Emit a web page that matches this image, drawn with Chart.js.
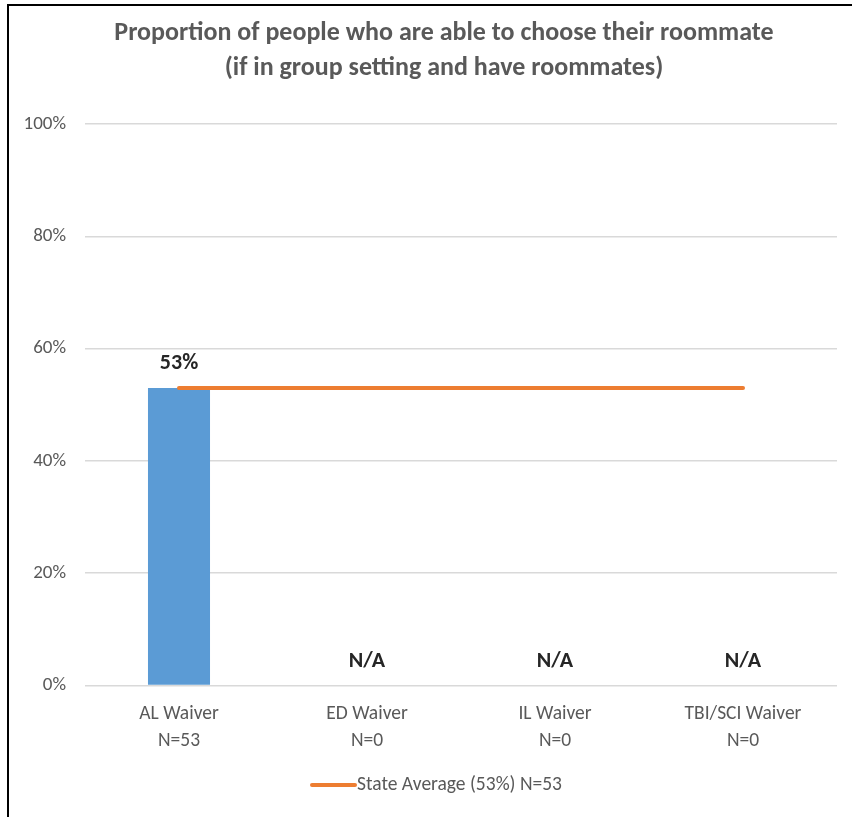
<!DOCTYPE html>
<html>
<head>
<meta charset="utf-8">
<script src="https://cdn.jsdelivr.net/npm/chart.js@4.4.1/dist/chart.umd.min.js"></script>
<style>
  html, body { margin: 0; padding: 0; background: #fff; }
  #wrap { position: relative; width: 852px; height: 817px; }
  #frame {
    position: absolute; left: 7px; top: 4px; right: 0; bottom: 0;
    border-left: 2px solid #000; border-top: 2px solid #000;
    pointer-events: none;
  }
</style>
</head>
<body>
<div id="wrap">
  <canvas id="myChart" width="852" height="817"></canvas>
  <div id="frame"></div>
</div>

<script>
// chart data
var categories = [['AL Waiver', 'N=53'], ['ED Waiver', 'N=0'], ['IL Waiver', 'N=0'], ['TBI/SCI Waiver', 'N=0']];
var waiverValues = [53, null, null, null];      // null = no respondents (N/A)
var stateAverage = [53, 53, 53, 53];
var stateAverageLabel = 'State Average (53%) N=53';
var yTicks = [0, 20, 40, 60, 80, 100];
var titleLines = ['Proportion of people who are able to choose their roommate', '(if in group setting and have roommates)'];

var FONT = 'Carlito, Calibri, Lato, sans-serif';
var GREY = '#595959';

// writes "53%" over bars, "N/A" where there is no value
var valueLabels = {
    id: 'valueLabels',
    afterDatasetsDraw: function(chart) {
        var ctx = chart.ctx;
        var meta = chart.getDatasetMeta(1);
        var zeroY = chart.scales.y.getPixelForValue(0);
        ctx.save();
        ctx.font = 'bold 22px ' + FONT;
        ctx.fillStyle = '#262626';
        ctx.textAlign = 'center';
        ctx.textBaseline = 'middle';
        meta.data.forEach(function(bar, i) {
            var v = waiverValues[i];
            if (v === null) {
                ctx.fillText('N/A', bar.x, zeroY - 24);
            } else {
                ctx.fillText(v + '%', bar.x, bar.y - 24);
            }
        });
        ctx.restore();
    }
};

// title and legend are drawn by hand so they can sit off the plot centre
var headerFooter = {
    id: 'headerFooter',
    afterDraw: function(chart) {
        var ctx = chart.ctx;
        ctx.save();
        ctx.fillStyle = GREY;
        ctx.textAlign = 'center';
        ctx.textBaseline = 'middle';
        ctx.font = 'bold 26px ' + FONT;
        titleLines.forEach(function(line, i) {
            ctx.fillText(line, 444, 33 + i * 35);
        });

        // legend: line swatch + label
        var ds = chart.data.datasets[0];
        ctx.strokeStyle = ds.borderColor;
        ctx.lineWidth = 4;
        ctx.lineCap = 'round';
        ctx.beginPath();
        ctx.moveTo(312, 785);
        ctx.lineTo(355, 785);
        ctx.stroke();
        ctx.font = '19.5px ' + FONT;
        ctx.textAlign = 'left';
        ctx.fillText(ds.label, 357, 785);
        ctx.restore();
    }
};

var ctx = document.getElementById('myChart').getContext('2d');

var myChart = new Chart(ctx, {
    type: 'bar',
    data: {
        labels: categories,
        datasets: [{
            type: 'line',
            label: stateAverageLabel,
            data: stateAverage,
            borderColor: '#ED7D31',
            backgroundColor: '#ED7D31',
            borderWidth: 4,
            borderCapStyle: 'round',
            pointRadius: 0
        }, {
            label: 'Waiver',
            data: waiverValues,
            backgroundColor: '#5B9BD5',
            barPercentage: 0.33,
            categoryPercentage: 1
        }]
    },
    options: {
        responsive: false,
        animation: false,
        layout: {
            padding: { left: 0, right: 15, top: 124, bottom: 46.5 }
        },
        plugins: {
            title: { display: false },
            legend: { display: false },
            tooltip: { enabled: false }
        },
        scales: {
            x: {
                grid: { display: false, drawTicks: false },
                border: { display: false },
                ticks: {
                    color: GREY,
                    font: { family: FONT, size: 19.5, lineHeight: 1.385 },
                    padding: 15.5,
                    maxRotation: 0
                }
            },
            y: {
                min: 0,
                max: 100,
                afterBuildTicks: function(scale) {
                    scale.ticks = yTicks.map(function(v) { return { value: v }; });
                },
                afterFit: function(scale) { scale.width = 85; },
                grid: { color: '#D9D9D9', lineWidth: 1.5, drawTicks: false },
                border: { display: false },
                ticks: {
                    color: GREY,
                    font: { family: FONT, size: 19 },
                    padding: 19,
                    callback: function(v) { return v + '%'; }
                }
            }
        }
    },
    plugins: [valueLabels, headerFooter]
});
</script>
</body>
</html>
